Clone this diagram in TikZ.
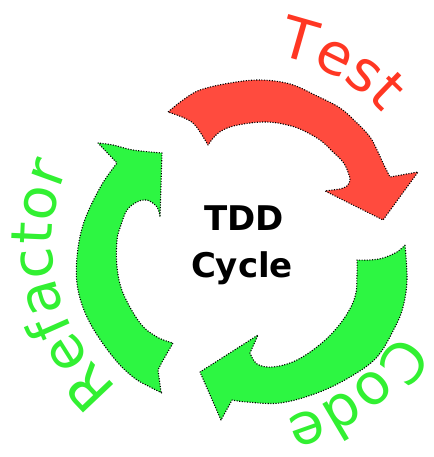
\documentclass[tikz,border=0pt]{standalone}
\usepackage{fontspec}
\usetikzlibrary{decorations.text}
\newfontfamily\labelfont{DejaVu Sans}
\definecolor{tddred}{RGB}{255,75,62}
\definecolor{tddgreen}{RGB}{45,246,66}
\definecolor{redtext}{RGB}{255,55,35}
\definecolor{greentext}{RGB}{50,240,50}

\begin{document}
\begin{tikzpicture}[x=1pt,y=-1pt,
  cyclearrow/.style={draw=black, line width=1.1pt, dash pattern=on 1.1pt off 1.5pt, line join=round},
  centertext/.style={anchor=base, inner sep=0pt, font=\labelfont\bfseries\fontsize{34}{40}\selectfont},
  arclabel/.style={decorate, decoration={text along path, text align=center, text={#1}}}
]
\useasboundingbox (0,0) rectangle (433,457);
\coordinate (ctr) at (242,243);

% Test: red arrow over the top
\path[cyclearrow, fill=tddred] (168,112)
  -- plot[smooth, tension=0.6] coordinates {(168,112) (183,100) (200,90) (230,83) (260,80) (290,84) (317,96) (340,108) (357,123) (370,137) (377,150) (383,163) (390,177)}
  -- (418,172) -- (383,220) -- (325,191) -- (340,189)
  -- plot[smooth, tension=0.6] coordinates {(340,189) (347,186) (350,180) (348,172) (343,162) (333,152) (320,140) (300,129) (283,124) (267,122) (250,123) (230,127) (217,134) (208,145)}
  -- plot[smooth, tension=0.6] coordinates {(208,145) (200,132) (193,123) (182,117) (168,112)}
  -- cycle;

% Code: green arrow on the lower right
\path[cyclearrow, fill=tddgreen] (405,245)
  -- plot[smooth, tension=0.6] coordinates {(405,245) (407,280) (403,307) (395,327) (377,357) (350,377) (317,393) (280,403) (247,402) (232,400)}
  -- (221,420) -- (200,372) -- (258,335) -- (250,353)
  -- plot[smooth, tension=0.6] coordinates {(250,353) (257,364) (273,367) (297,360) (323,342) (343,320) (355,297) (357,275) (357,260)}
  -- plot[smooth, tension=0.6] coordinates {(357,260) (370,260) (383,258) (397,252) (405,245)}
  -- cycle;

% Refactor: green arrow on the left
\path[cyclearrow, fill=tddgreen] (162,393)
  -- plot[smooth, tension=0.6] coordinates {(162,393) (150,387) (133,377) (113,357) (90,323) (78,290) (77,257) (84,222) (101,186) (117,163)}
  -- (98,143)
  -- plot[smooth, tension=0.6] coordinates {(98,143) (113,145) (133,150) (162,153)}
  -- (160,217)
  -- plot[smooth, tension=0.6] coordinates {(160,217) (157,207) (147,200) (137,202) (127,210) (121,225) (117,240) (117,267) (123,293) (140,323) (157,337) (173,343)}
  -- (162,362) -- (158,370) -- (161,392)
  -- cycle;

% centre title
\node[centertext] (tdd) at (244,230) {TDD};
\node[centertext] (cycle) at (242,277) {Cycle};

% labels running clockwise round the cycle
\begin{scope}[shift={(ctr)}, x=1pt, y=1pt]
  \path[arclabel={|\labelfont\fontsize{57}{57}\selectfont\color{redtext}|Test}]
    (101:191) arc[start angle=101, end angle=21, radius=191];
  \path[arclabel={|\labelfont\fontsize{57}{57}\selectfont\color{greentext}|Code}]
    (-13:180) arc[start angle=-13, end angle=-93, radius=180];
  \path[arclabel={|\labelfont\fontsize{57}{57}\selectfont\color{greentext}|Refactor}]
    (253:190) arc[start angle=253, end angle=133, radius=190];
\end{scope}
\end{tikzpicture}
\end{document}
